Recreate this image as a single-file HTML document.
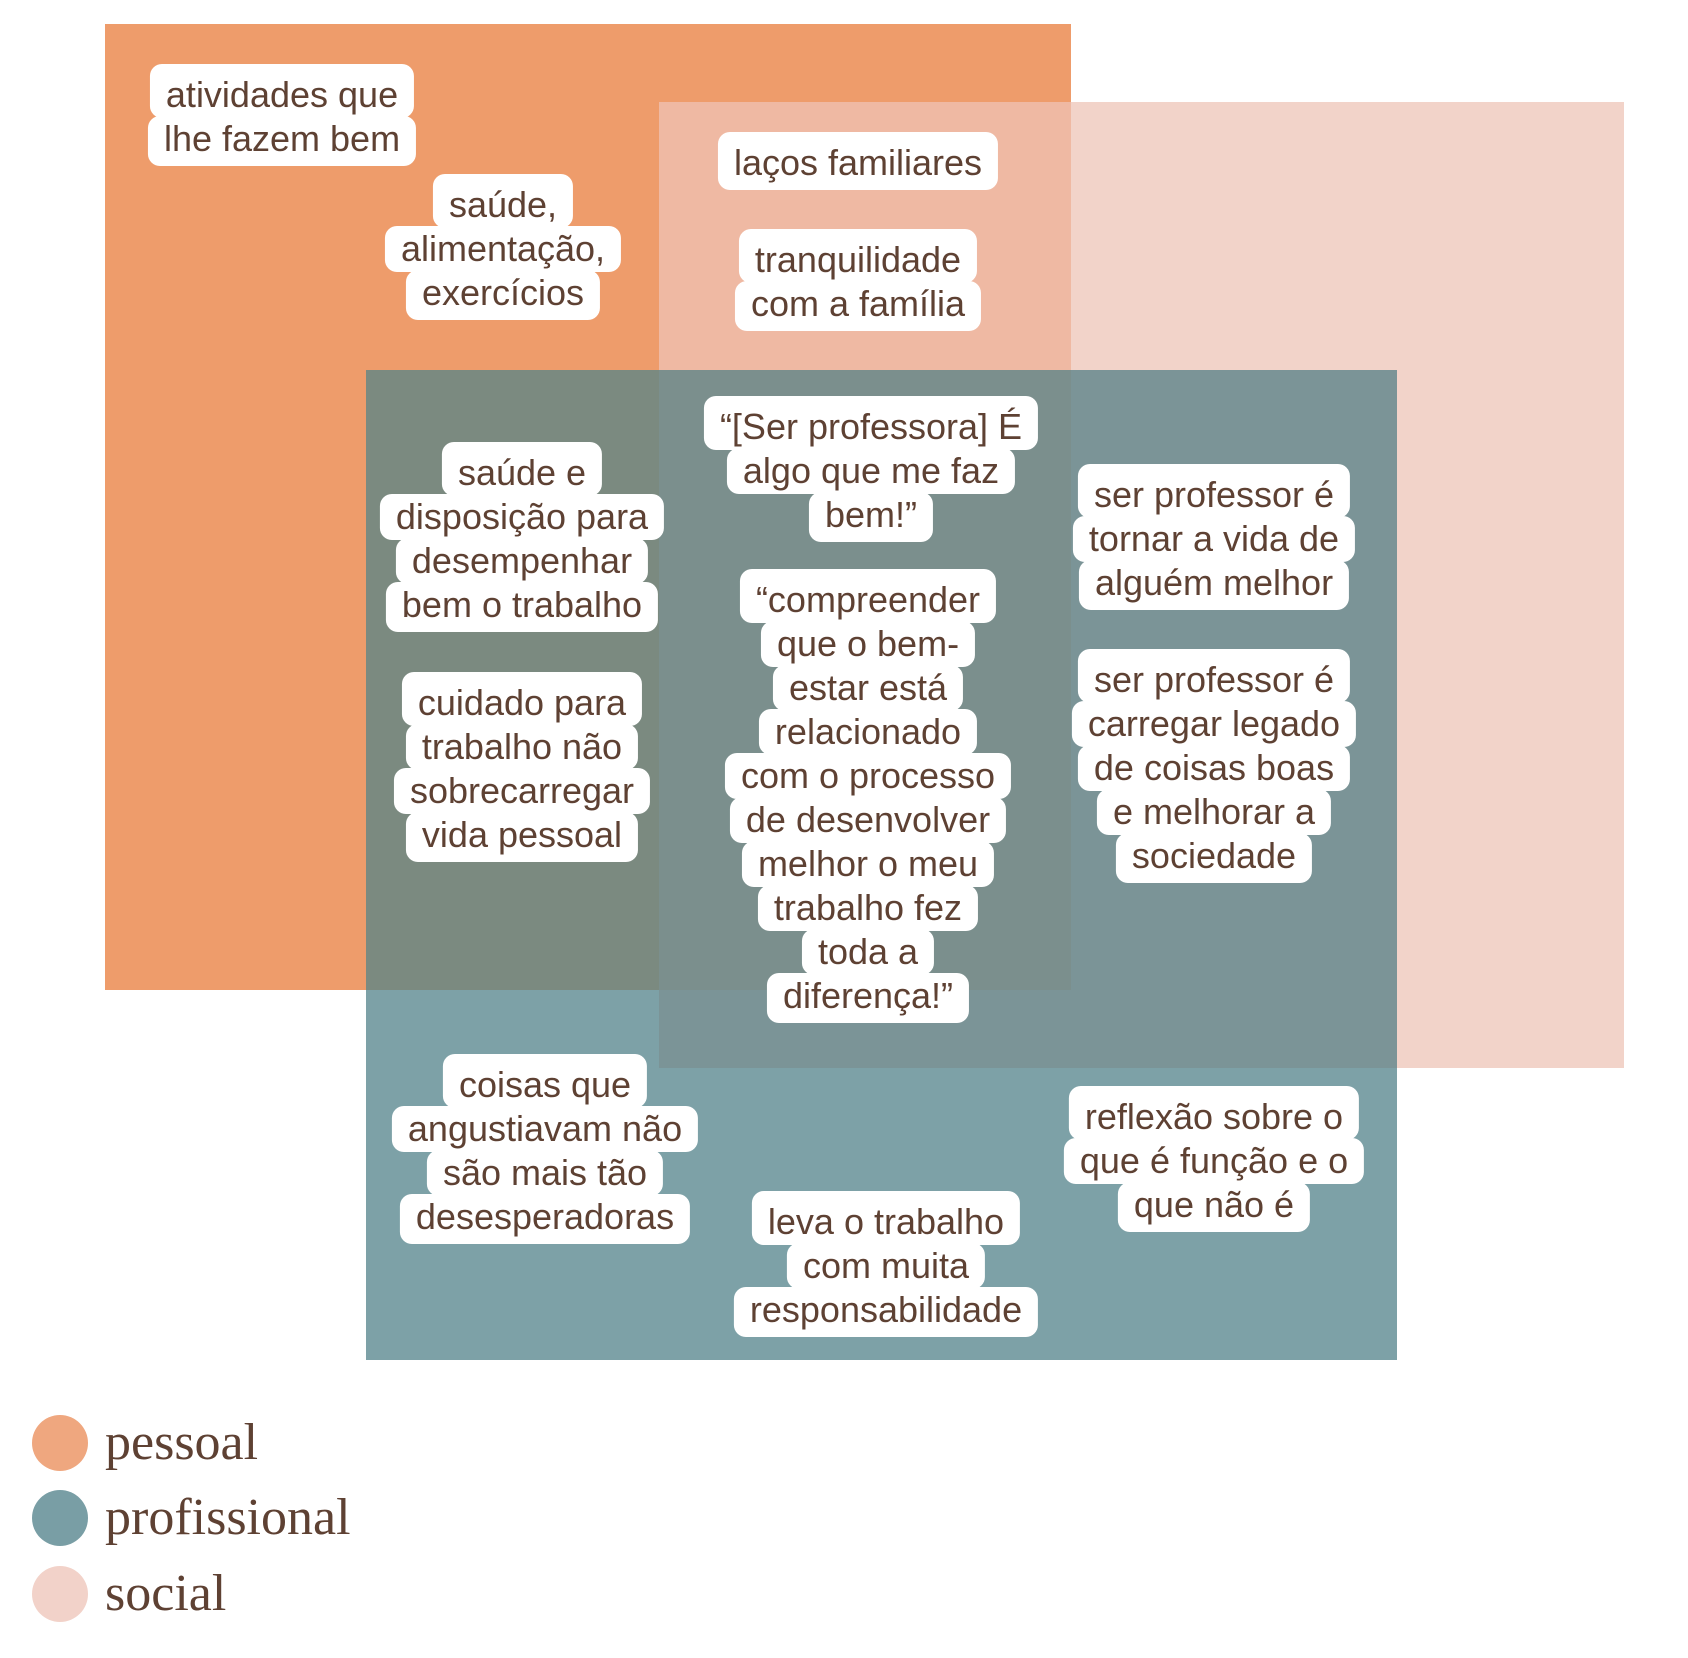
<!DOCTYPE html>
<html><head><meta charset="utf-8"><style>
html,body{margin:0;padding:0;background:#fff;}
body{width:1688px;height:1658px;position:relative;overflow:hidden;font-family:"Liberation Sans",sans-serif;color:#5e4133;}
.r{position:absolute;}
.b{position:absolute;transform:translateX(-50%);display:flex;flex-direction:column;align-items:center;font-size:36px;}
.b div{background:#fff;line-height:46px;padding:0 16px;border-radius:12px;white-space:nowrap;margin:-1px 0;}
.b div:first-child{padding-top:8px;}
.b div:last-child{padding-bottom:4px;}
.c{position:absolute;width:56px;height:56px;border-radius:50%;left:32px;}
.l{position:absolute;left:105px;font-size:52px;line-height:56px;font-family:"Liberation Serif",serif;}
</style></head><body>
<div class="r" style="left:105px;top:24px;width:966px;height:966px;background:#EE9C6B"></div>
<div class="r" style="left:659px;top:102px;width:965px;height:966px;background:#F2D3C9"></div>
<div class="r" style="left:659px;top:102px;width:412px;height:888px;background:#EFB9A3"></div>
<div class="r" style="left:366px;top:370px;width:1031px;height:990px;background:#7DA1A7"></div>
<div class="r" style="left:366px;top:370px;width:705px;height:620px;background:#7B8A80"></div>
<div class="r" style="left:659px;top:370px;width:738px;height:698px;background:#7B9497"></div>
<div class="r" style="left:659px;top:370px;width:412px;height:620px;background:#7B8F8D"></div>

<div class="b" style="left:282px;top:65px"><div>atividades que</div><div>lhe fazem bem</div></div>
<div class="b" style="left:503px;top:175px"><div>saúde,</div><div>alimentação,</div><div>exercícios</div></div>
<div class="b" style="left:858px;top:133px"><div>laços familiares</div></div>
<div class="b" style="left:858px;top:230px"><div>tranquilidade</div><div>com a família</div></div>
<div class="b" style="left:871px;top:397px"><div>“[Ser professora] É</div><div>algo que me faz</div><div>bem!”</div></div>
<div class="b" style="left:522px;top:443px"><div>saúde e</div><div>disposição para</div><div>desempenhar</div><div>bem o trabalho</div></div>
<div class="b" style="left:1214px;top:465px"><div>ser professor é</div><div>tornar a vida de</div><div>alguém melhor</div></div>
<div class="b" style="left:868px;top:570px"><div>“compreender</div><div>que o bem-</div><div>estar está</div><div>relacionado</div><div>com o processo</div><div>de desenvolver</div><div>melhor o meu</div><div>trabalho fez</div><div>toda a</div><div>diferença!”</div></div>
<div class="b" style="left:522px;top:673px"><div>cuidado para</div><div>trabalho não</div><div>sobrecarregar</div><div>vida pessoal</div></div>
<div class="b" style="left:1214px;top:650px"><div>ser professor é</div><div>carregar legado</div><div>de coisas boas</div><div>e melhorar a</div><div>sociedade</div></div>
<div class="b" style="left:545px;top:1055px"><div>coisas que</div><div>angustiavam não</div><div>são mais tão</div><div>desesperadoras</div></div>
<div class="b" style="left:1214px;top:1087px"><div>reflexão sobre o</div><div>que é função e o</div><div>que não é</div></div>
<div class="b" style="left:886px;top:1192px"><div>leva o trabalho</div><div>com muita</div><div>responsabilidade</div></div>

<div class="c" style="top:1415px;background:#EFA77F"></div>
<div class="c" style="top:1490px;background:#799EA5"></div>
<div class="c" style="top:1566px;background:#F2D2C9"></div>
<div class="l" style="top:1415px">pessoal</div>
<div class="l" style="top:1490px">profissional</div>
<div class="l" style="top:1566px">social</div>
</body></html>
